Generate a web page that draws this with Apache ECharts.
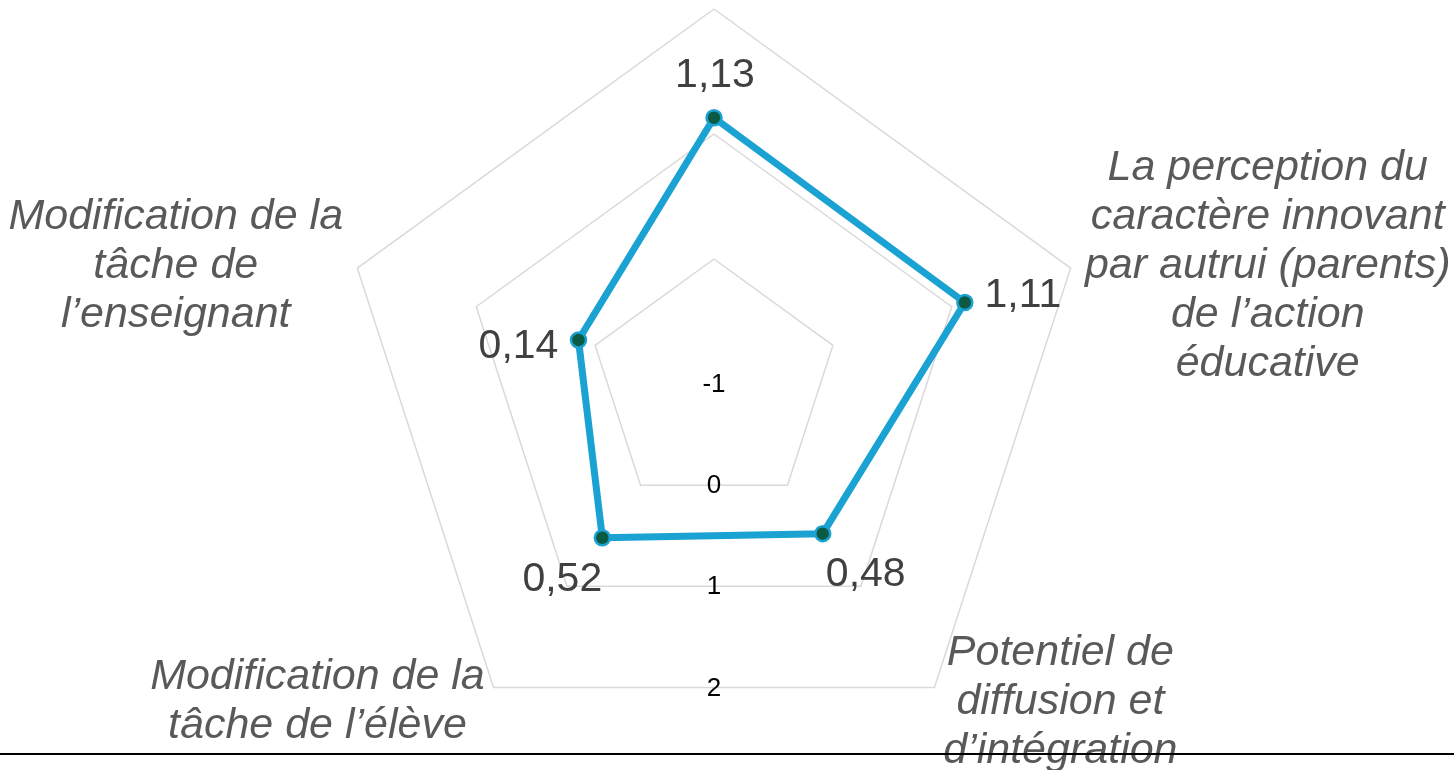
<!DOCTYPE html>
<html>
<head>
<meta charset="utf-8">
<script src="https://cdn.jsdelivr.net/npm/echarts@6/dist/echarts.min.js"></script>
<style>
html,body{margin:0;padding:0;background:#fff;overflow:hidden}
#wrap{position:relative;width:1454px;height:770px}
#c{width:1454px;height:770px}
#rule{position:absolute;left:0;top:753px;width:1454px;height:2px;background:#000;z-index:5}
</style>
</head>
<body>
<div id="wrap"><div id="c"></div><div id="rule"></div></div>
<script>
// ---- data ----
const indicatorNames = [
  '',
  'Modification de la\ntâche de\nl’enseignant',
  'Modification de la\ntâche de l’élève',
  'Potentiel de\ndiffusion et\nd’intégration',
  'La perception du\ncaractère innovant\npar autrui (parents)\nde l’action\néducative'
];
const values = [1.13, 0.14, 0.52, 0.48, 1.11];
const tickLabels = ['-1', '0', '1', '2'];
const axisMin = -1, axisMax = 2, axisInterval = 1;

// ---- styling ----
const FONT = "'Liberation Sans', Arial, sans-serif";
const LINE_COLOR = '#1AA2D3';
const DOT_COLOR = '#0B5A43';
const labelOffsets = [[1, -42], [-60, 7], [-40, 42], [43, 41], [58, -7]];
const fmt = v => v.toFixed(2).replace('.', ',');

const chart = echarts.init(document.getElementById('c'), null, {renderer: 'canvas'});

const labelSeries = values.map((_, k) => ({
  type: 'radar',
  radarIndex: 0,
  z: 5,
  symbol: 'circle',
  symbolSize: 1,
  silent: true,
  itemStyle: {color: 'rgba(0,0,0,0)', borderWidth: 0},
  lineStyle: {width: 0, opacity: 0},
  data: [{value: values.slice()}],
  label: {
    show: true,
    position: 'inside',
    offset: labelOffsets[k],
    color: '#404040',
    fontSize: 41,
    fontFamily: FONT,
    formatter: p => {
      const d = p.dimensionIndex != null ? p.dimensionIndex : values.indexOf(p.value);
      return d === k ? fmt(values[k]) : '';
    }
  }
}));

const option = {
  backgroundColor: '#fff',
  animation: false,
  radar: {
    center: [714, 384],
    radius: 375,
    startAngle: 90,
    splitNumber: 3,
    shape: 'polygon',
    indicator: indicatorNames.map(n => ({name: n, min: axisMin, max: axisMax})),
    nameGap: 15,
    axisName: {
      color: '#595959',
      fontSize: 43,
      fontStyle: 'italic',
      fontFamily: FONT,
      lineHeight: 49,
      padding: [5, 0, 0, 0],
      formatter: name => name ? name.split('\n').map(l => '{n|' + l + '}').join('\n') : '',
      rich: {
        n: {
          color: '#595959',
          fontSize: 43,
          fontStyle: 'italic',
          fontFamily: FONT,
          lineHeight: 49,
          align: 'center'
        }
      }
    },
    axisLine: {show: false},
    axisTick: {show: false},
    axisLabel: {show: false},
    splitArea: {show: false},
    splitLine: {lineStyle: {color: '#D9D9D9', width: 1.5}}
  },
  polar: {center: [714, 385], radius: 375 * Math.cos(Math.PI / 5)},
  angleAxis: {type: 'value', startAngle: 270, show: false, min: 0, max: 360},
  radiusAxis: {
    type: 'value',
    min: axisMin, max: axisMax, interval: axisInterval,
    axisLine: {show: false},
    axisTick: {show: false},
    splitLine: {show: false},
    z: 4,
    axisLabel: {
      show: true,
      margin: 0,
      align: 'center',
      verticalAlign: 'middle',
      color: '#000',
      fontSize: 26,
      fontFamily: FONT,
      formatter: v => tickLabels[Math.round((v - axisMin) / axisInterval)]
    }
  },
  series: [{
    type: 'radar',
    radarIndex: 0,
    z: 3,
    symbol: 'circle',
    symbolSize: 15,
    lineStyle: {color: LINE_COLOR, width: 7},
    itemStyle: {color: DOT_COLOR, borderColor: LINE_COLOR, borderWidth: 2.5},
    data: [{value: values.slice()}],
    label: {show: false}
  }].concat(labelSeries)
};
chart.setOption(option);
</script>
</body>
</html>
